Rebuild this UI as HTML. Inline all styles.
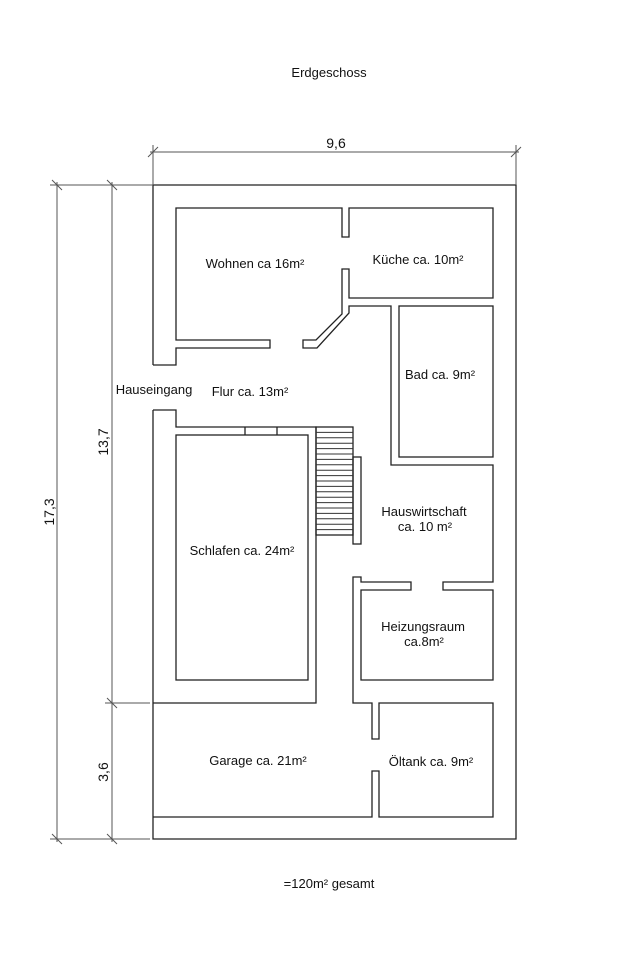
<!DOCTYPE html>
<html><head><meta charset="utf-8"><style>
html,body{margin:0;padding:0;background:#fff;}
svg{display:block;}
text{font-family:"Liberation Sans",sans-serif;fill:#111;}
</style></head><body>
<svg width="631" height="953" viewBox="0 0 631 953" xmlns="http://www.w3.org/2000/svg">
<rect width="631" height="953" fill="#fff"/>
<g fill="none" stroke="#222" stroke-width="1.3">
<polyline points="153,365 153,185 516,185 516,839 153,839 153,410"/>
<polyline points="153,365 176,365 176,348 270,348 270,340 176,340 176,208 342,208 342,237 349,237 349,208 493,208 493,298 349,298 349,269 342,269 342,314 316,340 303,340 303,348 317,348 349,313 349,306 391,306 391,465 493,465 493,582 443,582 443,590 493,590 493,680 361,680 361,590 411,590 411,582 361,582 361,577 353,577 353,703 372,703 372,739 379,739 379,703 493,703 493,817 379,817 379,771 372,771 372,817 153,817"/>
<polyline points="153,410 176,410 176,427 316,427 316,703 153,703"/>
<rect x="399" y="306" width="94" height="151"/>
<rect x="176" y="435" width="132" height="245"/>
<line x1="245" y1="427" x2="245" y2="435"/>
<line x1="277" y1="427" x2="277" y2="435"/>
<rect x="316" y="427" width="37" height="108"/>
<rect x="353" y="457" width="8" height="87"/>
</g>
<g stroke="#333" stroke-width="1">
<line x1="316" y1="432.4" x2="353" y2="432.4"/><line x1="316" y1="437.8" x2="353" y2="437.8"/>
<line x1="316" y1="443.2" x2="353" y2="443.2"/><line x1="316" y1="448.6" x2="353" y2="448.6"/>
<line x1="316" y1="454" x2="353" y2="454"/><line x1="316" y1="459.4" x2="353" y2="459.4"/>
<line x1="316" y1="464.8" x2="353" y2="464.8"/><line x1="316" y1="470.2" x2="353" y2="470.2"/>
<line x1="316" y1="475.6" x2="353" y2="475.6"/><line x1="316" y1="481" x2="353" y2="481"/>
<line x1="316" y1="486.4" x2="353" y2="486.4"/><line x1="316" y1="491.8" x2="353" y2="491.8"/>
<line x1="316" y1="497.2" x2="353" y2="497.2"/><line x1="316" y1="502.6" x2="353" y2="502.6"/>
<line x1="316" y1="508" x2="353" y2="508"/><line x1="316" y1="513.4" x2="353" y2="513.4"/>
<line x1="316" y1="518.8" x2="353" y2="518.8"/><line x1="316" y1="524.2" x2="353" y2="524.2"/>
<line x1="316" y1="529.6" x2="353" y2="529.6"/>
</g>
<g stroke="#555" stroke-width="1" fill="none">
<line x1="150" y1="152" x2="519" y2="152"/>
<line x1="153" y1="145" x2="153" y2="185"/>
<line x1="516" y1="145" x2="516" y2="185"/>
<line x1="148" y1="157" x2="158" y2="147"/>
<line x1="511" y1="157" x2="521" y2="147"/>
<line x1="50" y1="185" x2="153" y2="185"/>
<line x1="50" y1="839" x2="150" y2="839"/>
<line x1="105" y1="703" x2="150" y2="703"/>
<line x1="57" y1="182" x2="57" y2="842"/>
<line x1="112" y1="182" x2="112" y2="842"/>
<line x1="52" y1="180" x2="62" y2="190"/>
<line x1="107" y1="180" x2="117" y2="190"/>
<line x1="52" y1="834" x2="62" y2="844"/>
<line x1="107" y1="834" x2="117" y2="844"/>
<line x1="107" y1="698" x2="117" y2="708"/>
</g>
<g font-size="13">
<text x="329" y="77" text-anchor="middle">Erdgeschoss</text>
<text x="336" y="148" text-anchor="middle" font-size="14">9,6</text>
<text transform="translate(54,512) rotate(-90)" text-anchor="middle" font-size="14">17,3</text>
<text transform="translate(108,442) rotate(-90)" text-anchor="middle" font-size="14">13,7</text>
<text transform="translate(108,772) rotate(-90)" text-anchor="middle" font-size="14">3,6</text>
<text x="255" y="268" text-anchor="middle">Wohnen ca 16m²</text>
<text x="418" y="264" text-anchor="middle">Küche ca. 10m²</text>
<text x="440" y="379" text-anchor="middle">Bad ca. 9m²</text>
<text x="154" y="394" text-anchor="middle">Hauseingang</text>
<text x="250" y="396" text-anchor="middle">Flur ca. 13m²</text>
<text x="424" y="516" text-anchor="middle">Hauswirtschaft</text>
<text x="425" y="531" text-anchor="middle">ca. 10 m²</text>
<text x="242" y="555" text-anchor="middle">Schlafen ca. 24m²</text>
<text x="423" y="631" text-anchor="middle">Heizungsraum</text>
<text x="424" y="646" text-anchor="middle">ca.8m²</text>
<text x="258" y="765" text-anchor="middle">Garage ca. 21m²</text>
<text x="431" y="766" text-anchor="middle">Öltank ca. 9m²</text>
<text x="329" y="888" text-anchor="middle">=120m² gesamt</text>
</g>
</svg>
</body></html>
